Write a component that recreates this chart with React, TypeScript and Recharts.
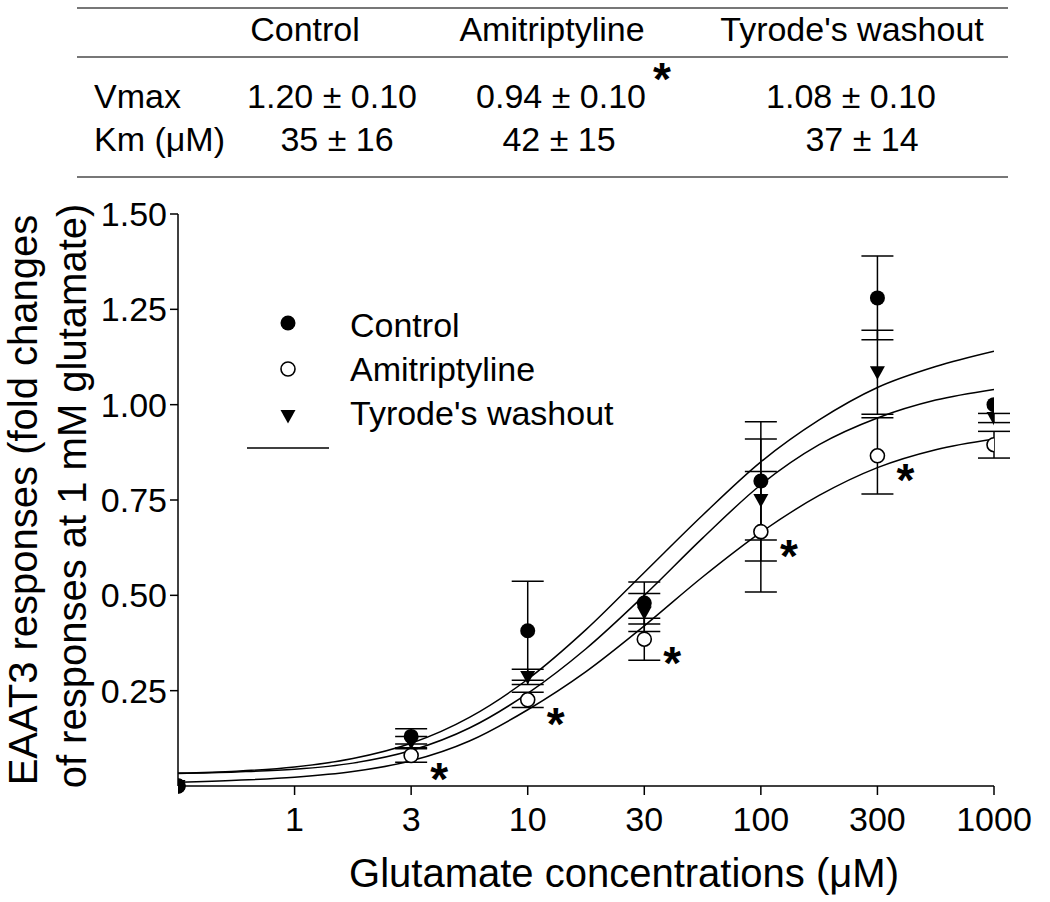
import { ComposedChart, Line, Scatter, XAxis, YAxis, ErrorBar, Legend, Label } from 'recharts';

const FONT = '"Liberation Sans", Arial, Helvetica, sans-serif';

// log10(µM) positions on the x axis; 0 µM sits at the left end of the axis
const concPos = [-0.5, 0.5, 1, 1.5, 2, 2.5, 3];
const tickPos = [0, 0.5, 1, 1.5, 2, 2.5, 3];
const tickLabels = ['1', '3', '10', '30', '100', '300', '1000'];
const yTicks = [0.25, 0.5, 0.75, 1.0, 1.25, 1.5];

const controlMean = [0, 0.13, 0.407, 0.48, 0.8, 1.28, 1.0];
const controlSem = [0, 0.02, 0.13, 0.055, 0.155, 0.11, 0];
const amiMean = [0, 0.08, 0.226, 0.385, 0.667, 0.866, 0.895];
const amiSem = [0, 0.018, 0.02, 0.055, 0.158, 0.1, 0.035];
const amiSig = [false, true, true, true, true, true, true];
const tyrodeMean = [0, 0.115, 0.286, 0.455, 0.75, 1.085, 0.965];
const tyrodeSem = [0, 0.015, 0.02, 0.05, 0.16, 0.11, 0.012];

// fitted curves
const fitPos = [-0.5, -0.25, 0, 0.25, 0.5, 0.75, 1, 1.25, 1.5, 1.75, 2, 2.25, 2.5, 2.75, 3];
const controlFit = [0.034, 0.039, 0.05, 0.072, 0.112, 0.18, 0.28, 0.41, 0.56, 0.71, 0.85, 0.96, 1.045, 1.1, 1.14];
const tyrodeFit = [0.033, 0.037, 0.044, 0.06, 0.093, 0.152, 0.243, 0.36, 0.5, 0.65, 0.79, 0.895, 0.965, 1.012, 1.04];
const amiFit = [0.01, 0.015, 0.023, 0.038, 0.066, 0.118, 0.2, 0.3, 0.42, 0.548, 0.665, 0.762, 0.835, 0.882, 0.91];

// kinetic table
const groups = ['Control', 'Amitriptyline', "Tyrode's washout"];
const vmaxVals = ['1.20 ± 0.10', '0.94 ± 0.10', '1.08 ± 0.10'];
const kmVals = ['35 ± 16', '42 ± 15', '37 ± 14'];

const points = (mean: number[], sem: number[], sig?: boolean[]) =>
  concPos.map((x, i) => ({ x, y: mean[i], err: sem[i], sig: sig ? sig[i] : false }));
const curve = (vals: number[]) => fitPos.map((x, i) => ({ x, y: vals[i] }));

const FilledDot = (p: any) => <circle cx={p.cx} cy={p.cy} r={7.5} fill="#000" />;
const OpenDot = (p: any) => (
  <g>
    <circle cx={p.cx} cy={p.cy} r={7} fill="#fff" stroke="#000" strokeWidth={1.6} />
    {p.payload && p.payload.sig && (
      <text x={p.cx + 28} y={p.cy + 40} textAnchor="middle" fontSize={46} fontWeight="bold" fontFamily={FONT} fill="#000">*</text>
    )}
  </g>
);
const Tri = (p: any) => (
  <path d={`M${p.cx - 7.5},${p.cy - 6} L${p.cx + 7.5},${p.cy - 6} L${p.cx},${p.cy + 7.5} Z`} fill="#000" />
);

const LegendBox = () => (
  <svg width={420} height={170} style={{ fontFamily: FONT }}>
    <circle cx={58} cy={28} r={7.5} fill="#000" />
    <circle cx={58} cy={74} r={7} fill="#fff" stroke="#000" strokeWidth={1.6} />
    <path d="M50.5,115 L65.5,115 L58,128.5 Z" fill="#000" />
    <text x={120} y={42} fontSize={34} fill="#000">Control</text>
    <text x={120} y={86} fontSize={34} fill="#000">Amitriptyline</text>
    <text x={120} y={130} fontSize={34} fill="#000">Tyrode's washout</text>
    <line x1={17} x2={99} y1={153} y2={153} stroke="#000" strokeWidth={1.5} />
  </svg>
);

const YTitle = () => (
  <g fontFamily={FONT} fontSize={40} fill="#000">
    <text transform="translate(37,500) rotate(-90)" textAnchor="middle">EAAT3 responses (fold changes</text>
    <text transform="translate(86,496) rotate(-90)" textAnchor="middle">of responses at 1 mM glutamate)</text>
  </g>
);

const XTitle = () => (
  <text x={624} y={887} textAnchor="middle" fontFamily={FONT} fontSize={40} fill="#000">
    Glutamate concentrations (μM)
  </text>
);

function KineticsTable() {
  const cols = [305, 552, 852];
  const vCols = [332, 561, 851];
  const kCols = [337, 559, 862];
  return (
    <svg width={1050} height={190} style={{ position: 'absolute', left: 0, top: 0, fontFamily: FONT }}>
      <line x1={77} x2={1008} y1={8} y2={8} stroke="#777" strokeWidth={2} />
      <line x1={77} x2={1008} y1={57} y2={57} stroke="#777" strokeWidth={2} />
      <line x1={77} x2={1008} y1={177} y2={177} stroke="#777" strokeWidth={2} />
      {groups.map((g, i) => (
        <text key={g} x={cols[i]} y={41} textAnchor="middle" fontSize={34}>{g}</text>
      ))}
      <text x={94} y={108} fontSize={34}>Vmax</text>
      <text x={94} y={151} fontSize={34}>Km (μM)</text>
      {vmaxVals.map((v, i) => (
        <text key={v} x={vCols[i]} y={108} textAnchor="middle" fontSize={34}>{v}</text>
      ))}
      <text x={662} y={95} textAnchor="middle" fontSize={46} fontWeight="bold">*</text>
      {kmVals.map((v, i) => (
        <text key={v} x={kCols[i]} y={151} textAnchor="middle" fontSize={34}>{v}</text>
      ))}
    </svg>
  );
}

export default function App() {
  const tickStyle = { fontSize: 34, fill: '#000', fontFamily: FONT };
  return (
    <div style={{ position: 'absolute', left: 0, top: 0, width: 1050, height: 902, background: '#fff' }}>
      <ComposedChart width={1050} height={902} margin={{ top: 214, right: 56, left: 100, bottom: 36 }}>
        <XAxis
          dataKey="x"
          type="number"
          domain={[-0.5, 3]}
          ticks={tickPos}
          tickFormatter={(v: number) => tickLabels[tickPos.indexOf(v)]}
          allowDataOverflow
          height={80}
          tickSize={9}
          tickMargin={12}
          tick={tickStyle}
          axisLine={{ stroke: '#000', strokeWidth: 1.5 }}
          tickLine={{ stroke: '#000', strokeWidth: 1.5 }}
        >
          <Label content={XTitle} />
        </XAxis>
        <YAxis
          type="number"
          domain={[0, 1.5]}
          ticks={yTicks}
          tickFormatter={(v: number) => v.toFixed(2)}
          width={78}
          tickSize={8}
          tickMargin={3}
          tick={tickStyle}
          axisLine={{ stroke: '#000', strokeWidth: 1.5 }}
          tickLine={{ stroke: '#000', strokeWidth: 1.5 }}
        >
          <Label content={YTitle} />
        </YAxis>
        <Legend layout="vertical" align="center" verticalAlign="middle" content={LegendBox}
          wrapperStyle={{ left: 230, top: 295, width: 420, height: 170 }} />

        <Line data={curve(controlFit)} dataKey="y" type="monotone" stroke="#000" strokeWidth={1.5} dot={false} isAnimationActive={false} />
        <Line data={curve(tyrodeFit)} dataKey="y" type="monotone" stroke="#000" strokeWidth={1.5} dot={false} isAnimationActive={false} />
        <Line data={curve(amiFit)} dataKey="y" type="monotone" stroke="#000" strokeWidth={1.5} dot={false} isAnimationActive={false} />

        <Scatter name="Amitriptyline" data={points(amiMean, amiSem, amiSig)} dataKey="y" shape={OpenDot} isAnimationActive={false}>
          <ErrorBar dataKey="err" direction="y" width={16} stroke="#000" strokeWidth={1.5} />
        </Scatter>
        <Scatter name="Tyrode's washout" data={points(tyrodeMean, tyrodeSem)} dataKey="y" shape={Tri} isAnimationActive={false}>
          <ErrorBar dataKey="err" direction="y" width={16} stroke="#000" strokeWidth={1.5} />
        </Scatter>
        <Scatter name="Control" data={points(controlMean, controlSem)} dataKey="y" shape={FilledDot} isAnimationActive={false}>
          <ErrorBar dataKey="err" direction="y" width={16} stroke="#000" strokeWidth={1.5} />
        </Scatter>
      </ComposedChart>
      <KineticsTable />
    </div>
  );
}
